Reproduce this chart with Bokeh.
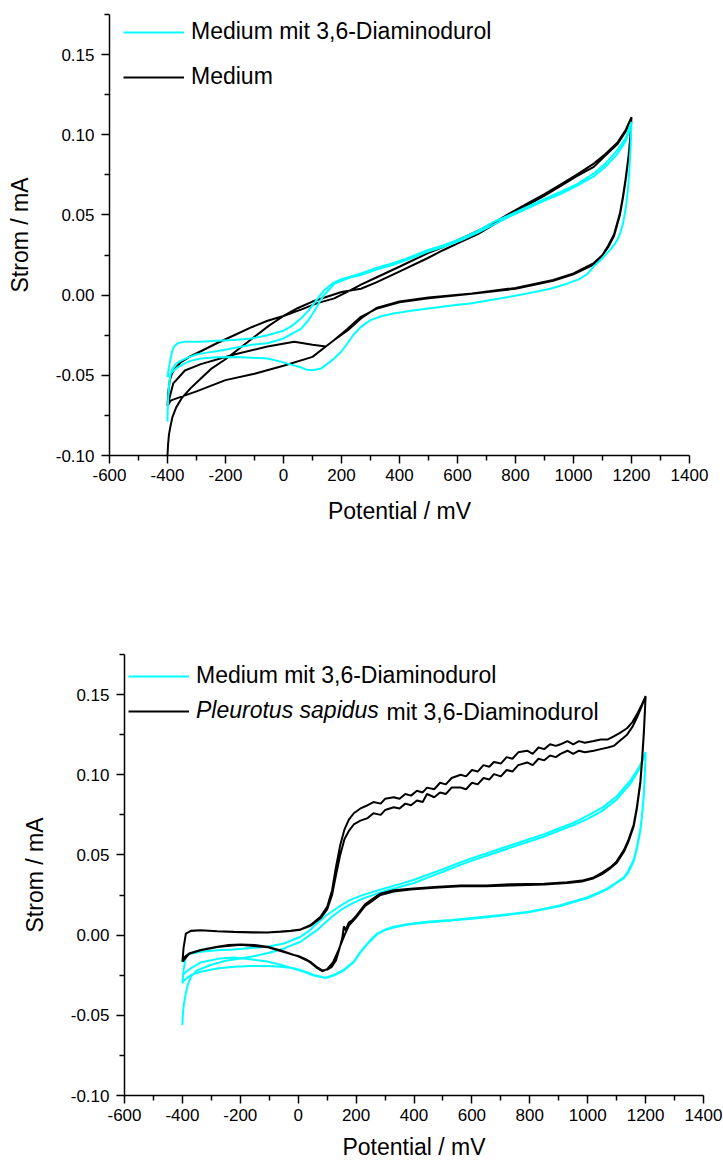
from bokeh.plotting import figure
from bokeh.layouts import column, row
from bokeh.models import FixedTicker, CustomJSTickFormatter, Legend, LegendItem, Label, Spacer
from bokeh.embed import file_html
from bokeh.resources import INLINE

FONT = "Liberation Sans"
CYAN = "#00FFFF"
BLACK = "#000000"

x_ticks = [-600, -400, -200, 0, 200, 400, 600, 800, 1000, 1200, 1400]
x_minor = [-500, -300, -100, 100, 300, 500, 700, 900, 1100, 1300]
y_ticks = [-0.10, -0.05, 0.0, 0.05, 0.10, 0.15]
y_minor = [-0.075, -0.025, 0.025, 0.075, 0.125, 0.175]
x_title = "Potential / mV"
y_title = "Strom / mA"

# ---------------- top chart: Medium mit 3,6-Diaminodurol (cyan) ----------------
top_cyan_an1_mv = [-400, -399, -397, -394, -390, -383, -372, -355, -330, -300, -270, -230, -170, -110, -55, 0, 30, 60, 85, 106, 125, 140, 160, 175, 200, 230, 267, 320, 380, 427, 496, 550, 610, 670, 725, 780, 840, 900, 955, 1010, 1070, 1110, 1151, 1180, 1200]
top_cyan_an1_ma = [-0.079, -0.070, -0.062, -0.055, -0.050, -0.046, -0.043, -0.041, -0.039, -0.037, -0.036, -0.035, -0.033, -0.031, -0.030, -0.027, -0.024, -0.021, -0.016, -0.010, -0.004, 0.000, 0.004, 0.007, 0.009, 0.011, 0.0125, 0.016, 0.019, 0.022, 0.027, 0.030, 0.034, 0.039, 0.044, 0.049, 0.054, 0.059, 0.063, 0.068, 0.074, 0.080, 0.088, 0.096, 0.107]
top_cyan_ca1_mv = [1200, 1197, 1193, 1188, 1180, 1170, 1160, 1150, 1130, 1100, 1070, 1050, 1020, 980, 920, 840, 750, 650, 580, 500, 440, 380, 340, 300, 267, 240, 221, 200, 175, 150, 129, 100, 80, 60, 35, 14, -20, -55, -110, -170, -230, -285, -320, -342, -365, -377, -390, -400]
top_cyan_ca1_ma = [0.108, 0.093, 0.079, 0.066, 0.054, 0.044, 0.038, 0.034, 0.029, 0.023, 0.018, 0.0135, 0.010, 0.0073, 0.004, 0.001, -0.002, -0.005, -0.0065, -0.0083, -0.0098, -0.0114, -0.013, -0.0156, -0.0198, -0.025, -0.030, -0.035, -0.0395, -0.043, -0.0458, -0.0469, -0.0465, -0.045, -0.0438, -0.0427, -0.041, -0.0395, -0.039, -0.0385, -0.0388, -0.0395, -0.041, -0.0427, -0.045, -0.0468, -0.049, -0.051]
top_cyan_an2_mv = [-400, -396, -390, -384, -377, -365, -340, -285, -230, -170, -110, -55, 2, 30, 60, 85, 106, 125, 140, 160, 175, 200, 230, 267, 320, 380, 427, 496, 550, 610, 670, 725, 780, 840, 900, 955, 1010, 1070, 1110, 1151, 1180, 1200]
top_cyan_an2_ma = [-0.051, -0.046, -0.040, -0.035, -0.032, -0.030, -0.029, -0.029, -0.0285, -0.028, -0.027, -0.025, -0.022, -0.019, -0.0146, -0.010, -0.005, -0.0005, 0.003, 0.006, 0.008, 0.010, 0.0115, 0.0135, 0.017, 0.020, 0.023, 0.028, 0.031, 0.035, 0.040, 0.0457, 0.050, 0.055, 0.060, 0.0644, 0.069, 0.0759, 0.082, 0.0904, 0.098, 0.108]

# ---------------- top chart: Medium (black) ----------------
top_black_an1_mv = [-400, -398, -395, -390, -383, -370, -350, -320, -285, -250, -200, -150, -100, -50, 0, 50, 100, 150, 200, 267, 320, 403, 496, 550, 610, 670, 725, 780, 840, 900, 955, 1010, 1070, 1110, 1151, 1180, 1200]
top_black_an1_ma = [-0.100, -0.093, -0.087, -0.082, -0.076, -0.070, -0.064, -0.058, -0.052, -0.046, -0.040, -0.033, -0.026, -0.019, -0.013, -0.008, -0.004, -0.001, 0.002, 0.004, 0.008, 0.015, 0.023, 0.028, 0.033, 0.038, 0.044, 0.050, 0.056, 0.062, 0.068, 0.074, 0.080, 0.087, 0.094, 0.102, 0.111]
top_black_ca1_mv = [1200, 1196, 1190, 1180, 1170, 1160, 1140, 1120, 1100, 1070, 1000, 930, 800, 650, 500, 400, 320, 267, 221, 175, 146, 100, 37, -55, -170, -285, -340, -380, -400]
top_black_ca1_ma = [0.111, 0.099, 0.087, 0.073, 0.061, 0.051, 0.038, 0.031, 0.025, 0.020, 0.0135, 0.0094, 0.0045, 0.001, -0.0015, -0.004, -0.008, -0.0145, -0.022, -0.028, -0.032, -0.031, -0.029, -0.032, -0.037, -0.043, -0.047, -0.055, -0.069]
top_black_an2_mv = [-400, -397, -392, -385, -375, -355, -320, -285, -230, -170, -110, -55, 0, 60, 117, 175, 230, 267, 320, 403, 496, 550, 610, 670, 725, 780, 840, 900, 955, 1010, 1070, 1110, 1151, 1180, 1200]
top_black_an2_ma = [-0.069, -0.060, -0.053, -0.049, -0.046, -0.042, -0.038, -0.035, -0.030, -0.025, -0.020, -0.016, -0.013, -0.009, -0.005, -0.002, 0.003, 0.0065, 0.011, 0.018, 0.026, 0.030, 0.035, 0.040, 0.045, 0.051, 0.057, 0.063, 0.069, 0.075, 0.082, 0.088, 0.095, 0.103, 0.111]
top_black_ca2_mv = [1200, 1196, 1190, 1180, 1170, 1160, 1140, 1120, 1100, 1070, 1000, 930, 800, 650, 500, 400, 320, 267, 221, 175, 146, 100, 0, -100, -200, -300, -388, -400]
top_black_ca2_ma = [0.111, 0.098, 0.086, 0.072, 0.060, 0.050, 0.037, 0.030, 0.025, 0.019, 0.013, 0.009, 0.004, 0.0008, -0.002, -0.0045, -0.0085, -0.0135, -0.021, -0.028, -0.032, -0.0385, -0.044, -0.049, -0.053, -0.060, -0.0656, -0.069]

# ---------------- bottom chart: Medium mit 3,6-Diaminodurol (cyan) ----------------
bot_cyan_an1_mv = [-400, -398, -394, -388, -383, -371, -350, -300, -250, -200, -150, -100, -49, 8, 40, 65, 95, 123, 150, 180, 215, 250, 300, 350, 400, 450, 500, 550, 600, 650, 700, 750, 800, 850, 900, 950, 1000, 1050, 1100, 1150, 1180, 1200]
bot_cyan_an1_ma = [-0.056, -0.048, -0.042, -0.036, -0.032, -0.026, -0.022, -0.0185, -0.016, -0.0145, -0.013, -0.011, -0.0083, -0.0041, 0.000, 0.0031, 0.0080, 0.0124, 0.0160, 0.0192, 0.0222, 0.0245, 0.0275, 0.0300, 0.0325, 0.0360, 0.0395, 0.0430, 0.0465, 0.0495, 0.0525, 0.0555, 0.0585, 0.0615, 0.0650, 0.0685, 0.0725, 0.0775, 0.0845, 0.0950, 0.1040, 0.1140]
bot_cyan_ca1_mv = [1200, 1197, 1194, 1188, 1182, 1170, 1159, 1140, 1125, 1100, 1067, 1030, 998, 950, 906, 850, 791, 700, 618, 530, 445, 380, 330, 300, 273, 245, 215, 192, 157, 123, 94, 54, 20, -15, -60, -107, -160, -222, -280, -337, -365, -383, -395, -400]
bot_cyan_ca1_ma = [0.114, 0.100, 0.088, 0.076, 0.066, 0.055, 0.047, 0.040, 0.036, 0.033, 0.029, 0.026, 0.0235, 0.021, 0.0186, 0.0165, 0.0145, 0.0125, 0.011, 0.0095, 0.0083, 0.0070, 0.0052, 0.0035, 0.0010, -0.0040, -0.0104, -0.0165, -0.0217, -0.0248, -0.0265, -0.0248, -0.0225, -0.0207, -0.0197, -0.0193, -0.0192, -0.0197, -0.0208, -0.0228, -0.0245, -0.0265, -0.0285, -0.030]
bot_cyan_an2_mv = [-400, -396, -388, -375, -337, -280, -222, -164, -107, -49, 8, 40, 65, 95, 123, 150, 180, 215, 250, 300, 350, 400, 450, 500, 550, 600, 650, 700, 750, 800, 850, 900, 950, 1000, 1050, 1100, 1150, 1180, 1200]
bot_cyan_an2_ma = [-0.030, -0.022, -0.0135, -0.0118, -0.0104, -0.0095, -0.0089, -0.0080, -0.0072, -0.0052, -0.0010, 0.0030, 0.0072, 0.0120, 0.0155, 0.0188, 0.0220, 0.0245, 0.0265, 0.0292, 0.0318, 0.0345, 0.0378, 0.0412, 0.0447, 0.0480, 0.0510, 0.0540, 0.0570, 0.0600, 0.0630, 0.0665, 0.0700, 0.0745, 0.0795, 0.0865, 0.0970, 0.1055, 0.1140]
bot_cyan_ca2_mv = [1200, 1197, 1194, 1188, 1182, 1170, 1159, 1140, 1125, 1100, 1067, 1030, 998, 950, 906, 850, 791, 700, 618, 530, 445, 380, 330, 300, 273, 245, 215, 192, 157, 123, 94, 54, 20, -15, -60, -107, -164, -222, -279, -337, -371, -400]
bot_cyan_ca2_ma = [0.114, 0.099, 0.087, 0.075, 0.065, 0.054, 0.046, 0.039, 0.0355, 0.0325, 0.0285, 0.0255, 0.023, 0.0205, 0.0182, 0.0161, 0.0141, 0.0121, 0.0106, 0.0091, 0.0079, 0.0066, 0.0048, 0.0031, 0.0006, -0.0044, -0.0108, -0.0169, -0.0221, -0.0252, -0.0268, -0.0252, -0.0228, -0.0210, -0.0185, -0.0165, -0.0150, -0.0140, -0.0148, -0.0170, -0.0207, -0.0248]

# ---------------- bottom chart: Pleurotus sapidus mit 3,6-Diaminodurol (black) ----------------
bot_black_an1_mv = [-400, -396, -388, -371, -337, -280, -222, -160, -107, -60, -26, 8, 42, 77, 100, 117, 130, 145, 160, 175, 192, 215, 240, 260, 285, 300, 330, 350, 370, 390, 410, 430, 445, 470, 490, 510, 530, 561, 580, 600, 620, 640, 660, 676, 700, 720, 740, 760, 791, 810, 830, 850, 870, 890, 906, 930, 950, 970, 990, 1021, 1045, 1070, 1090, 1110, 1136, 1155, 1171, 1185, 1200]
bot_black_an1_ma = [-0.0166, -0.008, 0.001, 0.0027, 0.0031, 0.0025, 0.0021, 0.0018, 0.0017, 0.0022, 0.0027, 0.0035, 0.0062, 0.0114, 0.0176, 0.028, 0.042, 0.056, 0.066, 0.072, 0.076, 0.079, 0.081, 0.083, 0.082, 0.085, 0.086, 0.085, 0.088, 0.087, 0.090, 0.089, 0.092, 0.091, 0.095, 0.094, 0.098, 0.100, 0.099, 0.103, 0.102, 0.106, 0.105, 0.108, 0.107, 0.111, 0.110, 0.114, 0.115, 0.113, 0.117, 0.116, 0.119, 0.118, 0.119, 0.121, 0.119, 0.121, 0.120, 0.121, 0.122, 0.122, 0.124, 0.126, 0.129, 0.133, 0.138, 0.143, 0.149]
bot_black_ca1_mv = [1200, 1197, 1194, 1188, 1182, 1170, 1159, 1140, 1125, 1100, 1079, 1050, 1021, 980, 929, 850, 733, 650, 561, 470, 388, 330, 284, 250, 230, 215, 200, 185, 175, 163, 158, 152, 140, 130, 115, 100, 83, 65, 45, 31, 0, -15, -60, -107, -150, -199, -240, -279, -337, -377, -395, -400]
bot_black_ca1_ma = [0.149, 0.138, 0.127, 0.110, 0.096, 0.080, 0.069, 0.059, 0.053, 0.046, 0.0424, 0.039, 0.036, 0.034, 0.033, 0.032, 0.0317, 0.031, 0.031, 0.030, 0.029, 0.028, 0.0259, 0.0217, 0.019, 0.0155, 0.012, 0.009, 0.008, 0.003, 0.0055, -0.002, -0.010, -0.016, -0.020, -0.0215, -0.022, -0.020, -0.017, -0.0155, -0.013, -0.0124, -0.0095, -0.0072, -0.0062, -0.0058, -0.0062, -0.0072, -0.0093, -0.0114, -0.014, -0.0166]
bot_black_an2_mv = [-400, -396, -388, -371, -337, -280, -222, -160, -107, -60, -26, 8, 42, 77, 100, 117, 130, 145, 160, 175, 192, 215, 240, 260, 285, 300, 330, 350, 370, 390, 410, 430, 445, 470, 490, 510, 530, 561, 580, 600, 620, 640, 660, 676, 700, 720, 740, 760, 791, 810, 830, 850, 870, 890, 906, 930, 950, 970, 990, 1021, 1045, 1070, 1090, 1110, 1136, 1155, 1171, 1185, 1200]
bot_black_an2_ma = [-0.0166, -0.008, 0.001, 0.0026, 0.0030, 0.0024, 0.0020, 0.0017, 0.0016, 0.0021, 0.0026, 0.0034, 0.0058, 0.0105, 0.0160, 0.025, 0.037, 0.050, 0.060, 0.065, 0.069, 0.0714, 0.073, 0.076, 0.075, 0.078, 0.0797, 0.079, 0.082, 0.081, 0.084, 0.083, 0.088, 0.086, 0.089, 0.088, 0.092, 0.0921, 0.091, 0.095, 0.094, 0.098, 0.097, 0.1004, 0.099, 0.103, 0.102, 0.106, 0.1077, 0.106, 0.110, 0.109, 0.112, 0.111, 0.113, 0.115, 0.113, 0.115, 0.114, 0.115, 0.116, 0.117, 0.118, 0.121, 0.125, 0.130, 0.136, 0.142, 0.149]
bot_black_ca2_mv = [1200, 1197, 1194, 1188, 1182, 1170, 1159, 1140, 1125, 1100, 1079, 1050, 1021, 980, 929, 850, 733, 650, 561, 470, 388, 330, 284, 250, 230, 215, 200, 185, 175, 160, 140, 120, 100, 83, 65, 45, 31, 0, -107, -199, -279, -337, -377, -400]
bot_black_ca2_ma = [0.149, 0.137, 0.126, 0.109, 0.095, 0.079, 0.068, 0.058, 0.052, 0.045, 0.0418, 0.038, 0.0355, 0.0335, 0.0325, 0.0315, 0.031, 0.0305, 0.0305, 0.0295, 0.0285, 0.0272, 0.0250, 0.0205, 0.018, 0.0145, 0.011, 0.008, 0.006, 0.000, -0.009, -0.017, -0.0212, -0.0225, -0.0205, -0.0175, -0.0158, -0.0132, -0.0075, -0.0060, -0.0074, -0.0095, -0.0116, -0.0166]


def xy(*branches):
    xs, ys = [], []
    for bx, by in branches:
        xs += list(bx)
        ys += list(by)
    return xs, ys


def make_fig(width, height, left, right, top, bottom, title_standoff):
    p = figure(width=width, height=height, x_range=(-600, 1400), y_range=(-0.10, 0.175),
               output_backend="svg", toolbar_location=None,
               min_border_left=left, min_border_right=right,
               min_border_top=top, min_border_bottom=bottom)
    p.outline_line_color = None
    p.xgrid.visible = False
    p.ygrid.visible = False
    p.background_fill_color = "white"
    p.border_fill_color = "white"
    p.xaxis.ticker = FixedTicker(ticks=x_ticks, minor_ticks=x_minor)
    p.yaxis.ticker = FixedTicker(ticks=y_ticks, minor_ticks=y_minor)
    p.xaxis.formatter = CustomJSTickFormatter(code="return tick.toFixed(0);")
    p.yaxis.formatter = CustomJSTickFormatter(code="return tick.toFixed(2);")
    for ax in (p.xaxis, p.yaxis):
        ax.axis_line_width = 1.5
        ax.axis_line_color = "black"
        ax.major_tick_line_width = 1.5
        ax.minor_tick_line_width = 1.5
        ax.major_tick_line_color = "black"
        ax.minor_tick_line_color = "black"
        ax.major_tick_out = 8
        ax.major_tick_in = 0
        ax.minor_tick_out = 5
        ax.minor_tick_in = 0
        ax.major_label_text_font = FONT
        ax.major_label_text_font_size = "17px"
        ax.major_label_text_color = "black"
        ax.axis_label_text_font = FONT
        ax.axis_label_text_font_size = "23px"
        ax.axis_label_text_font_style = "normal"
        ax.axis_label_text_color = "black"
    p.xaxis.axis_label = x_title
    p.yaxis.axis_label = y_title
    p.xaxis.major_label_standoff = 5
    p.yaxis.major_label_standoff = 7
    p.xaxis.axis_label_standoff = title_standoff
    p.yaxis.axis_label_standoff = 20
    return p


def legend(items, loc, spacing, style="normal"):
    return Legend(items=items, location=loc, orientation="vertical",
                  label_text_font=FONT, label_text_font_size="23px",
                  label_text_font_style=style, label_text_color="black",
                  glyph_width=61, glyph_height=20, label_standoff=7,
                  spacing=spacing, padding=0, margin=0,
                  border_line_color=None, background_fill_alpha=0)


# top chart
p1 = make_fig(723, 579, 109, 34, 14, 124, 14)
tx, ty = xy((top_cyan_an1_mv, top_cyan_an1_ma), (top_cyan_ca1_mv, top_cyan_ca1_ma),
            (top_cyan_an2_mv, top_cyan_an2_ma), (top_cyan_ca1_mv, top_cyan_ca1_ma))
bx, by = xy((top_black_an1_mv, top_black_an1_ma), (top_black_ca1_mv, top_black_ca1_ma),
            (top_black_an2_mv, top_black_an2_ma), (top_black_ca2_mv, top_black_ca2_ma))
r_black1 = p1.line(bx, by, line_color=BLACK, line_width=2)
r_cyan1 = p1.line(tx, ty, line_color=CYAN, line_width=2)
p1.add_layout(legend([LegendItem(label="Medium mit 3,6-Diaminodurol", renderers=[r_cyan1]),
                      LegendItem(label="Medium", renderers=[r_black1])], (14, 365), 18))

# bottom chart
p2 = make_fig(708, 583, 109, 20, 75, 66, 10)
cx, cy = xy((bot_cyan_an1_mv, bot_cyan_an1_ma), (bot_cyan_ca1_mv, bot_cyan_ca1_ma),
            (bot_cyan_an2_mv, bot_cyan_an2_ma), (bot_cyan_ca2_mv, bot_cyan_ca2_ma))
kx, ky = xy((bot_black_an1_mv, bot_black_an1_ma), (bot_black_ca1_mv, bot_black_ca1_ma),
            (bot_black_an2_mv, bot_black_an2_ma), (bot_black_ca2_mv, bot_black_ca2_ma))
r_cyan2 = p2.line(cx, cy, line_color=CYAN, line_width=2)
r_black2 = p2.line(kx, ky, line_color=BLACK, line_width=2)
p2.add_layout(legend([LegendItem(label="Medium mit 3,6-Diaminodurol", renderers=[r_cyan2])], (4, 406), 0))
p2.add_layout(legend([LegendItem(label="Pleurotus sapidus", renderers=[r_black2])], (4, 371), 0, "italic"))
p2.add_layout(Label(x=262, y=384, x_units="screen", y_units="screen", text="mit 3,6-Diaminodurol",
                    text_font=FONT, text_font_size="23px", text_baseline="middle", text_color="black"))

layout = column(p1, row(Spacer(width=15, height=583), p2, spacing=0), spacing=0)
open("out.html", "w").write(file_html(layout, INLINE))
